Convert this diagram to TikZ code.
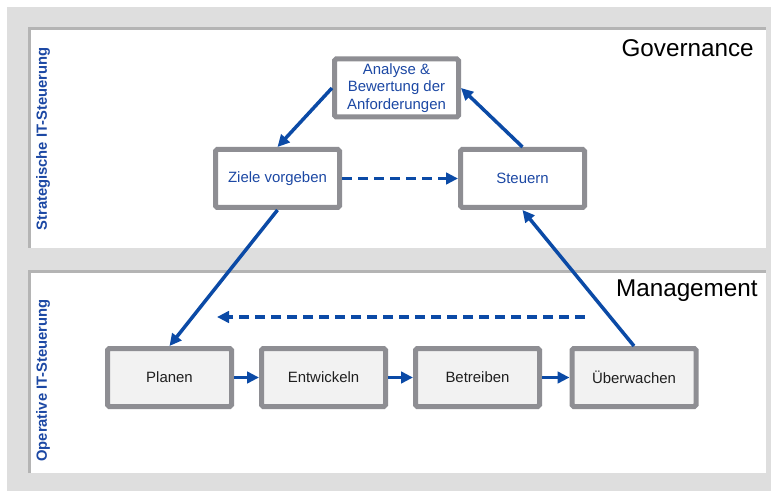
\documentclass[tikz,border=0pt]{standalone}
\usepackage{fontspec}
\setmainfont{Liberation Sans}
\usepackage{xcolor}
\usepackage[]{tikz}
\usetikzlibrary{positioning,calc}
\usetikzlibrary{arrows.meta}
\definecolor{frameGray}{HTML}{DEDEDE}
\definecolor{shadowGray}{HTML}{B4B4B4}
\definecolor{boxGray}{HTML}{8E8E93}
\definecolor{boxFill}{HTML}{F2F2F2}
\definecolor{itBlue}{HTML}{0B4AA6}
\definecolor{textBlue}{HTML}{1C48A4}
\tikzstyle{boxTop}  =[rectangle,draw=boxGray,line width=0.1cm,rounded corners=1pt,fill=white,
    minimum width=2.48cm,minimum height=1.16cm,inner sep=1pt,align=center,text=textBlue,
    font=\fontsize{8.5}{9.8}\selectfont]
\tikzstyle{boxBottom}  =[boxTop,fill=boxFill,text=black!88]
\tikzstyle{levelLabel} =[rotate=90,text=textBlue,font=\fontsize{8.4}{10}\selectfont\bfseries]
\tikzstyle{layerTitle} =[anchor=base east,inner sep=0pt,font=\fontsize{13.8}{16}\selectfont]
\tikzset{flow/.style={draw=itBlue,line width=0.07cm,-{Triangle[length=2.4mm,width=2.3mm]}},
    flowDashed/.style={flow,dash pattern=on 0.2cm off 0.12cm}
}

\begin{document}
\begin{tikzpicture}[]
      \useasboundingbox (0,0) rectangle (15.5,-9.82);
      % frame and the two layers
      \fill[frameGray] (0.14,-0.14) rectangle (15.42,-9.82);
      \fill[white] (0.56,-0.54) rectangle (15.32,-4.96);
      \fill[white] (0.56,-5.4) rectangle (15.32,-9.46);
      \draw[shadowGray,line width=0.06cm] (0.59,-4.96) -- (0.59,-0.57) -- (15.32,-0.57);
      \draw[shadowGray,line width=0.06cm] (0.59,-9.46) -- (0.59,-5.43) -- (15.32,-5.43);
      \node[levelLabel] (strat) at (0.86,-2.78) {Strategische IT-Steuerung};
      \node[levelLabel] (oper) at (0.86,-7.61) {Operative IT-Steuerung};
      \node[layerTitle] (gov) at (15.08,-1.14) {Governance};
      \node[layerTitle] (mgmt) at (15.16,-5.92) {Management};
      % governance
      \node[boxTop] (ana) at (7.93,-1.76) {Analyse \&\\Bewertung der\\Anforderungen};
      \node[boxTop] (ziele) at (5.55,-3.57) {Ziele vorgeben};
      \node[boxTop] (steuern) [right = 2.32cm of ziele] {Steuern};
      % management
      \node[boxBottom] (planen) at (3.39,-7.55) {Planen};
      \node[boxBottom] (entw) [right = 0.5cm of planen] {Entwickeln};
      \node[boxBottom] (betr) [right = 0.5cm of entw] {Betreiben};
      \node[boxBottom] (ueber) [right = 0.55cm of betr] {Überwachen};
      \coordinate (backR) at (11.7,-6.34);
      \coordinate (backL) at (4.34,-6.34);
      \draw[flow] (ana.west) -- (ziele.north);
      \draw[flow] (steuern.north) -- (ana.east);
      \draw[flowDashed] (ziele.east) -- (steuern.west);
      \draw[flow] (ziele.south) -- (planen.north);
      \draw[flow] (ueber.north) -- (steuern.south);
      \draw[flow] (planen) -- (entw);
      \draw[flow] (entw) -- (betr);
      \draw[flow] (betr) -- (ueber);
      \draw[flowDashed] (backR) -- (backL);
    \end{tikzpicture}
\end{document}
